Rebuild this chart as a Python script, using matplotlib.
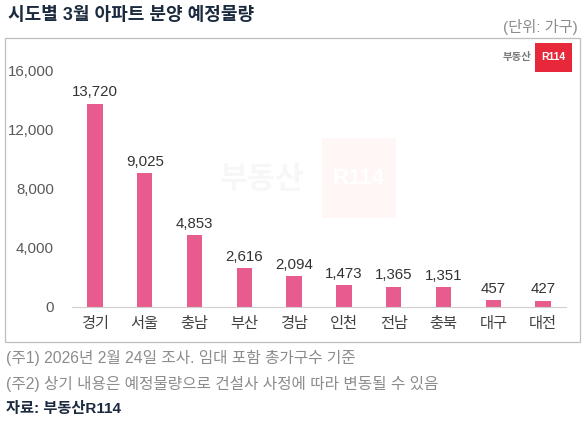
import matplotlib
matplotlib.use('Agg')
import matplotlib.pyplot as plt
from matplotlib.patches import Rectangle

plt.rcParams['font.family'] = ['Liberation Sans', 'Noto Sans CJK KR', 'DejaVu Sans']

regions = ['경기', '서울', '충남', '부산', '경남', '인천', '전남', '충북', '대구', '대전']
units = [13720, 9025, 4853, 2616, 2094, 1473, 1365, 1351, 457, 427]
yticks = [0, 4000, 8000, 12000, 16000]

bar_color = '#e75b8f'
text_grey = '#595959'
note_grey = '#8c8c8c'
navy = '#1c2a3f'

W, H = 586, 421
fig = plt.figure(figsize=(W / 100, H / 100), dpi=100)

def fx(px):
    return px / W

def fy(py):
    return 1 - py / H

# outer frame
frame = Rectangle((fx(5), fy(342)), fx(575), 304 / H, transform=fig.transFigure,
                  fill=False, edgecolor='#bfbfbf', linewidth=0.9)
fig.patches.append(frame)

ax = fig.add_axes([fx(72), fy(307), fx(566 - 72), (307 - 70) / H])
ax.bar(range(len(regions)), units, width=0.31, color=bar_color, zorder=2)
for i, v in enumerate(units):
    ax.text(i, v + 300, f'{v:,}', ha='center', va='bottom', fontsize=10.8, color='#333333')

ax.set_xlim(-0.46, len(regions) - 1 + 0.46)
ax.set_ylim(0, 16000)
ax.set_yticks(yticks)
ax.set_yticklabels([f'{t:,}' for t in yticks], fontsize=10.8, color=text_grey)
ax.set_xticks(range(len(regions)))
ax.set_xticklabels(regions, fontsize=11, color='#404040')
ax.tick_params(axis='both', length=0)
ax.tick_params(axis='y', pad=13)
ax.tick_params(axis='x', pad=7)
for s in ['top', 'right', 'left']:
    ax.spines[s].set_visible(False)
ax.spines['bottom'].set_color('#d0d0d0')
ax.patch.set_alpha(0)

# very faint watermark
fig.text(fx(262), fy(180), '부동산', fontsize=22, fontweight='bold', color='#f7f7f7',
         ha='center', va='center', zorder=0)
wm = Rectangle((fx(322), fy(218)), 74 / W, 80 / H, transform=fig.transFigure,
               facecolor='#fff6f6', edgecolor='none', zorder=0)
fig.patches.append(wm)
fig.text(fx(359), fy(178), 'R114', fontsize=16, fontweight='bold', color='#ffffff',
         ha='center', va='center', zorder=1)

# logo top right
fig.text(fx(531), fy(57), '부동산', fontsize=7.5, fontweight='bold', color='#7a7a7a',
         ha='right', va='center')
logo = Rectangle((fx(535), fy(72)), 37 / W, 29 / H, transform=fig.transFigure,
                 facecolor='#e6283a', edgecolor='none')
fig.patches.append(logo)
fig.text(fx(553), fy(57), 'R114', fontsize=7.5, fontweight='bold', color='white',
         ha='center', va='center')

# title and unit
fig.text(fx(8), fy(16), '시도별 3월 아파트 분양 예정물량', fontsize=13, fontweight='bold',
         color=navy, ha='left', va='center')
fig.text(fx(578), fy(27), '(단위: 가구)', fontsize=11, color=note_grey,
         ha='right', va='center')

# notes
fig.text(fx(6), fy(358), '(주1) 2026년 2월 24일 조사. 임대 포함 총가구수 기준', fontsize=11.3,
         color=note_grey, ha='left', va='center')
fig.text(fx(6), fy(384), '(주2) 상기 내용은 예정물량으로 건설사 사정에 따라 변동될 수 있음',
         fontsize=11.3, color=note_grey, ha='left', va='center')
fig.text(fx(6), fy(409), '자료: 부동산R114', fontsize=11, fontweight='bold',
         color=navy, ha='left', va='center')

fig.savefig('out.png', dpi=100, facecolor='white')
